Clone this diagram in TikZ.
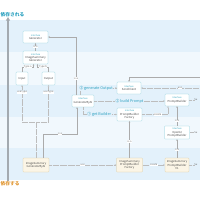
\documentclass[tikz,border=0pt]{standalone}
\usepackage{fontspec}
\setmainfont{Noto Sans CJK JP}
\usetikzlibrary{arrows.meta}
\definecolor{banddark}{HTML}{E3F1FB}
\definecolor{bandlight}{HTML}{F1F8FD}
\definecolor{ifline}{HTML}{86CCDA}
\definecolor{ifhead}{HTML}{3AA8C1}
\definecolor{boxtext}{HTML}{4A4A4A}
\definecolor{clfill}{HTML}{FBF5E6}
\definecolor{clline}{HTML}{D9C89C}
\definecolor{linegray}{HTML}{ABABAB}
\definecolor{dotgray}{HTML}{BDBDBD}
\definecolor{lbltext}{HTML}{707070}
\definecolor{steptext}{HTML}{2A9FBF}
\definecolor{axisgray}{HTML}{A3AAB0}
\definecolor{deptop}{HTML}{2AA0BF}
\definecolor{depbot}{HTML}{E0952F}
\newcommand{\ifc}{{\color{ifhead}\fontsize{4.5}{5}\selectfont Interface}}
\tikzset{
  ifbox/.style={draw=ifline, fill=white, line width=0.6pt, rounded corners=1.5pt,
    align=center, inner sep=1pt, text=boxtext, font=\fontsize{5.5}{6.5}\selectfont,
    minimum width=50pt, minimum height=24pt},
  clbox/.style={ifbox, draw=clline, fill=clfill},
  isa/.style={draw=linegray, line width=0.8pt, -{Stealth[length=3.5pt,width=3pt]}},
  usel/.style={draw=dotgray, line width=0.6pt, dash pattern=on 1pt off 1.3pt,
    -{Stealth[length=3.5pt,width=3pt]}},
  dotl/.style={draw=dotgray, line width=0.6pt, dash pattern=on 1pt off 1.3pt},
  lbl/.style={font=\fontsize{5}{5}\selectfont, text=lbltext, fill=white, inner sep=0.6pt},
  steplbl/.style={font=\fontsize{7.5}{8}\selectfont, text=steptext, fill=banddark, inner sep=1pt},
  sulbl/.style={anchor=west, font=\fontsize{5}{6}\selectfont, text=lbltext, inner sep=0.5pt},
  deplbl/.style={font=\fontsize{9.5}{10}\selectfont\bfseries, inner sep=0.5pt, anchor=west},
  axis/.style={draw=axisgray, line width=3pt, -{Triangle[length=7pt,width=8pt]}}
}

\begin{document}
\begin{tikzpicture}[x=2pt,y=-2pt]
\useasboundingbox (0,0) rectangle (200,200);
\foreach \ya/\yb/\bc in {20/52/banddark, 52/85/bandlight, 85/117/banddark, 117/148/bandlight, 148/180/banddark}
{
  \fill[\bc] (0,\ya) rectangle (200,\yb);
}

\node[deplbl, text=deptop] (dtop) at (0.3,14.5) {依存される};
\node[deplbl, text=depbot] (dbot) at (0.3,184) {依存する};
\draw[axis] (dbot.north -| 8,0) -- (dtop.south -| 8,0);

\node[ifbox] (gen) at (35.5,37) {\ifc\\Generator};
\node[ifbox, minimum height=26pt] (isgen) at (35.5,57.5) {\ifc\\ImageSummary\\Generator};
\node[ifbox, minimum width=24pt, minimum height=26pt] (inp) at (22,78.5) {Input};
\node[ifbox, minimum width=26pt, minimum height=26pt] (outp) at (48.5,78.5) {Output};
\node[ifbox, minimum width=44pt] (gai) at (83,101) {\ifc\\GeneratorByAI};
\node[ifbox, minimum width=48pt] (send) at (129,88) {\ifc\\SendClient};
\node[ifbox, minimum width=48pt] (pb) at (177,100) {\ifc\\PromptBuilder};
\node[ifbox, minimum height=26pt] (pbf) at (129.5,114.5) {\ifc\\PromptBuilder\\Factory};
\node[ifbox, minimum height=26pt] (oapb) at (177,132.5) {\ifc\\OpenAI\\PromptBuilder};

\node[clbox, minimum width=52pt, minimum height=28pt] (isgai) at (36,165) {ImageSummary\\GeneratorByAI};
\node[clbox, minimum width=52pt, minimum height=28pt] (ispbf) at (129.5,165) {ImageSummary\\PromptBuilder\\Factory};
\node[clbox, minimum width=48pt, minimum height=28pt] (ispbv) at (177,165) {ImageSummary\\PromptBuilder\\V1};

\draw[isa] (isgen) -- node[lbl]{is-a} (gen);
\draw[isa] (inp.north) -- ++(0,-5) -| node[lbl,pos=0.25]{Type a} ([xshift=-4pt]isgen.south);
\draw[isa] (outp.north) -- ++(0,-5) -| node[lbl,pos=0.25]{Type b} ([xshift=4pt]isgen.south);
\draw[isa] ([xshift=-14pt]gai.north) |- node[lbl,pos=0.14]{is-a} (gen.east);

\draw[dotl] (isgai.north) -- ++(0,-36) coordinate (fork);
\draw[usel] (fork) -| node[lbl,pos=0.905]{use type} (inp.south);
\draw[usel] (fork) -| node[lbl,pos=0.905]{use type} (outp.south);
\draw[isa] ([xshift=14pt]isgai.north) -- ++(0,-24) -| node[lbl,pos=0.25]{is-a} ([xshift=-12pt]gai.south);

\draw[usel] ([xshift=-6pt]gai.north) |- node[steplbl,pos=0.72]{③ generate Output} (send.west);
\draw[usel] (gai.east) -- node[steplbl]{② build Prompt} (gai.east -| pb.west);
\draw[usel] (gai.south) |- node[steplbl,pos=0.74]{① get Builder} (pbf.west);

\draw[usel] (pbf.east) -| node[lbl,pos=0.3]{create} ([xshift=-18pt]pb.south);
\draw[isa] (oapb) -- node[lbl,pos=0.25]{is-a} (pb);
\draw[isa] (ispbf) -- node[lbl,pos=0.45]{is-a} (pbf);
\draw[isa] (ispbv) -- node[lbl,pos=0.42]{is-a} (oapb);
\draw[usel] (isgai) -- node[lbl]{use} (ispbf);
\draw[usel] (ispbf) -- node[lbl]{create} (ispbv);

\coordinate (sendtop) at (200,77);
\coordinate (sendrt) at (200,88);
\draw[isa] (sendtop) -| (send.north);
\draw[usel] (sendrt) -- node[lbl,pos=0.34]{use} (send.east);

\node[sulbl] (su1) at (194,100) {Su};
\node[sulbl] (su2) at (194,132.5) {Su};
\node[sulbl] (su3) at (194,165) {Su};
\draw[dotl] (pb.east) -- (su1.west);
\draw[dotl] (oapb.east) -- (su2.west);
\draw[dotl] (ispbv.east) -- (su3.west);

\end{tikzpicture}
\end{document}
